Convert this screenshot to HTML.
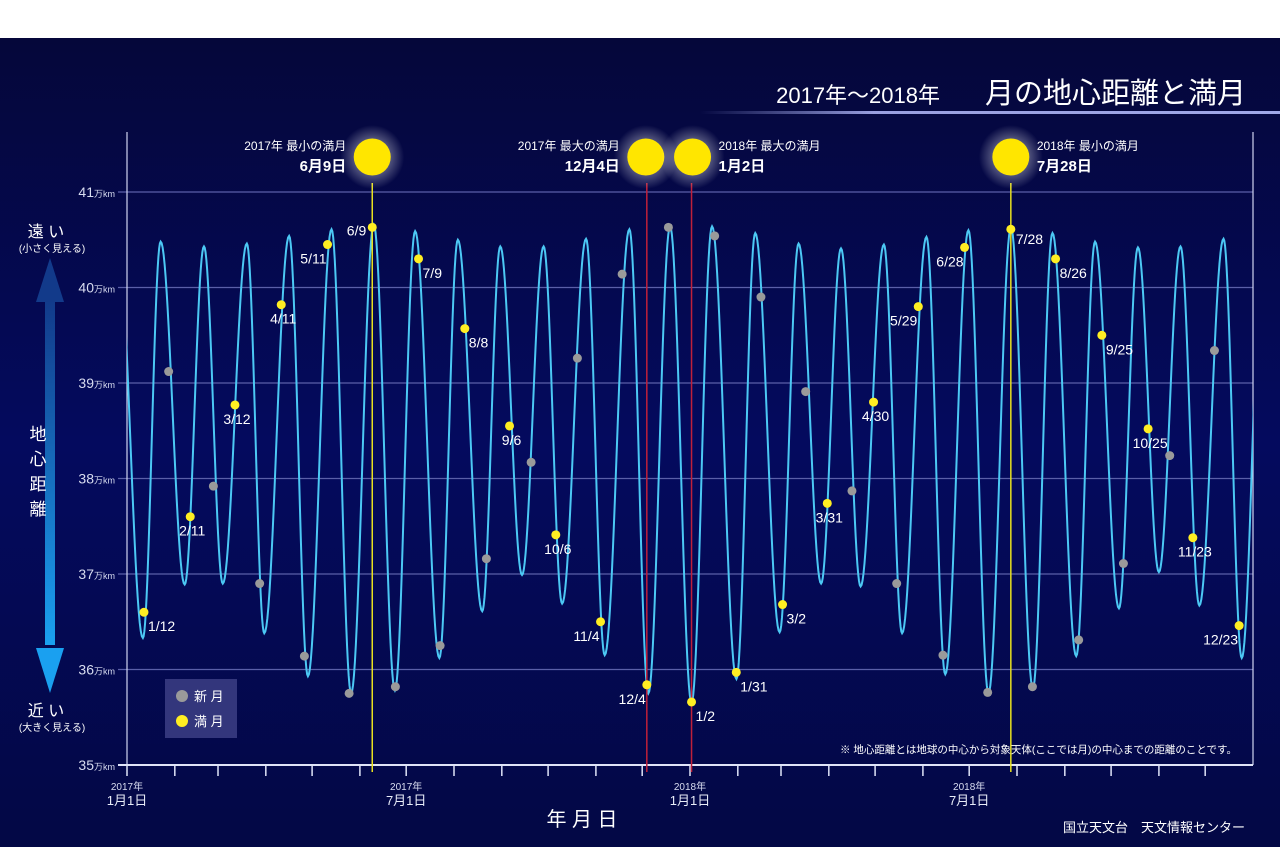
<!DOCTYPE html>
<html><head><meta charset="utf-8"><style>
html,body{margin:0;padding:0;background:#fff;}
svg{display:block;font-family:"Liberation Sans","Noto Sans CJK JP",sans-serif;}
</style></head><body>
<svg id="chart" width="1280" height="847" viewBox="0 0 1280 847">
<defs>
<linearGradient id="bg" x1="0" y1="0" x2="0" y2="1">
<stop offset="0" stop-color="#05073a"/><stop offset="0.5" stop-color="#040a5e"/><stop offset="1" stop-color="#030845"/>
</linearGradient>
<linearGradient id="arrow" x1="0" y1="0" x2="0" y2="1">
<stop offset="0" stop-color="#123a8a"/><stop offset="1" stop-color="#1aa0f0"/>
</linearGradient>
<linearGradient id="uline" x1="0" y1="0" x2="1" y2="0">
<stop offset="0" stop-color="#8890d0" stop-opacity="0"/><stop offset="0.3" stop-color="#9aa0e0"/><stop offset="1" stop-color="#a0a8e8"/>
</linearGradient>
<radialGradient id="glow"><stop offset="0.5" stop-color="#ffffff" stop-opacity="0.35"/><stop offset="1" stop-color="#ffffff" stop-opacity="0"/></radialGradient>
<clipPath id="plotclip"><rect x="127" y="130" width="1126" height="640"/></clipPath>
</defs>
<rect x="0" y="0" width="1280" height="38" fill="#ffffff"/>
<rect x="0" y="38" width="1280" height="809" fill="url(#bg)"/>
<g>
<text x="940" y="103" fill="#fff" font-size="22" text-anchor="end">2017年～2018年</text>
<text x="1246" y="103" fill="#fff" font-size="29" text-anchor="end">月の地心距離と満月</text>
<rect x="700" y="111" width="580" height="3" fill="url(#uline)"/>
</g>
<g id="grid"></g>
<g id="axes"></g>
<g id="series" clip-path="url(#plotclip)"></g>
<g id="annot"></g>
<g id="dots"></g>
<g>
<text x="46" y="237" fill="#fff" font-size="16" text-anchor="middle">遠 い</text>
<text x="52" y="252" fill="#fff" font-size="10" text-anchor="middle">(小さく見える)</text>
<rect x="45" y="300" width="10" height="345" fill="url(#arrow)"/>
<polygon points="50,258 36,302 64,302" fill="#123a8a"/>
<polygon points="50,693 36,648 64,648" fill="#1aa0f0"/>
<text x="38" y="440" fill="#fff" font-size="17" text-anchor="middle">地</text>
<text x="38" y="465" fill="#fff" font-size="17" text-anchor="middle">心</text>
<text x="38" y="490" fill="#fff" font-size="17" text-anchor="middle">距</text>
<text x="38" y="515" fill="#fff" font-size="17" text-anchor="middle">離</text>
<text x="46" y="716" fill="#fff" font-size="16" text-anchor="middle">近 い</text>
<text x="52" y="731" fill="#fff" font-size="10" text-anchor="middle">(大きく見える)</text>
</g>
<g>
<rect x="165" y="679" width="72" height="59" fill="#33367c"/>
<circle cx="182" cy="696" r="6" fill="#9a9a9a"/>
<text x="194" y="701" fill="#fff" font-size="13">新 月</text>
<circle cx="182" cy="721" r="6" fill="#ffee22"/>
<text x="194" y="726" fill="#fff" font-size="13">満 月</text>
</g>
<text x="1237" y="753" fill="#fff" font-size="10.5" text-anchor="end">※ 地心距離とは地球の中心から対象天体(ここでは月)の中心までの距離のことです。</text>
<text x="582" y="826" fill="#fff" font-size="20" text-anchor="middle">年 月 日</text>
<text x="1245" y="832" fill="#fff" font-size="13" text-anchor="end">国立天文台　天文情報センター</text>
</svg>
<script>
// Distance extremes: day index from 2017-01-01, distance in 万km
const extremeDays = [-6,10.3,21.8,37.4,49.9,62.1,77.7,89.0,105.1,117.3,132.6,145.3,160.0,173.7,186.8,202.5,214.5,230.3,242.0,256.1,270.1,282.1,297.6,309.7,325.7,338.0,352.1,366.0,379.3,395.1,407.3,423.1,435.4,450.0,462.9,475.6,490.7,502.5,518.3,530.5,545.5,558.5,573.1,587.3,600.0,615.4,627.6,643.1,655.4,669.0,683.0,695.2,710.9,722.7,736.5];
const extremeValues = [40.5,36.33,40.48,36.89,40.43,36.90,40.46,36.38,40.54,35.93,40.61,35.75,40.66,35.78,40.59,36.12,40.50,36.61,40.43,36.99,40.43,36.69,40.51,36.15,40.61,35.75,40.64,35.65,40.64,35.90,40.57,36.39,40.46,36.90,40.41,36.87,40.45,36.38,40.53,35.95,40.60,35.75,40.63,35.80,40.57,36.14,40.48,36.64,40.42,37.02,40.43,36.67,40.51,36.12,40.5];
const fullMoonDates = ["2017-01-12","2017-02-11","2017-03-12","2017-04-11","2017-05-11","2017-06-09","2017-07-09","2017-08-08","2017-09-06","2017-10-06","2017-11-04","2017-12-04","2018-01-02","2018-01-31","2018-03-02","2018-03-31","2018-04-30","2018-05-29","2018-06-28","2018-07-28","2018-08-26","2018-09-25","2018-10-25","2018-11-23","2018-12-23"];
const fullMoonValues = [36.60,37.60,38.77,39.82,40.45,40.63,40.30,39.57,38.55,37.41,36.50,35.84,35.66,35.97,36.68,37.74,38.80,39.80,40.42,40.61,40.30,39.50,38.52,37.38,36.46];
const fullMoonLabels = ["1/12","2/11","3/12","4/11","5/11","6/9","7/9","8/8","9/6","10/6","11/4","12/4","1/2","1/31","3/2","3/31","4/30","5/29","6/28","7/28","8/26","9/25","10/25","11/23","12/23"];
const newMoonDates = ["2017-01-28","2017-02-26","2017-03-28","2017-04-26","2017-05-25","2017-06-24","2017-07-23","2017-08-22","2017-09-20","2017-10-20","2017-11-18","2017-12-18","2018-01-17","2018-02-16","2018-03-17","2018-04-16","2018-05-15","2018-06-14","2018-07-13","2018-08-11","2018-09-10","2018-10-09","2018-11-08","2018-12-07"];
const newMoonValues = [39.12,37.92,36.90,36.14,35.75,35.82,36.25,37.16,38.17,39.26,40.14,40.63,40.54,39.90,38.91,37.87,36.90,36.15,35.76,35.82,36.31,37.11,38.24,39.34];
const yTicks = [35,36,37,38,39,40,41];
const xTickDates = ["2017-01-01","2017-07-01","2018-01-01","2018-07-01"];
const xTickYears = ["2017年","2017年","2018年","2018年"];
const xTickDays = ["1月1日","7月1日","1月1日","7月1日"];
const highlightDates = ["2017-06-09","2017-12-04","2018-01-02","2018-07-28"];
const highlightTitles = ["2017年 最小の満月","2017年 最大の満月","2018年 最大の満月","2018年 最小の満月"];
const highlightDays = ["6月9日","12月4日","1月2日","7月28日"];

const NS="http://www.w3.org/2000/svg";
const X0=127,X1=1253,Y35=765,PX=95.5;
const T0=Date.UTC(2017,0,1);
function dayOf(s){const p=s.split("-");return (Date.UTC(+p[0],+p[1]-1,+p[2])-T0)/86400000;}
function xScale(d){return X0+d*(X1-X0)/730;}
function yScale(v){return Y35-(v-35)*PX;}
function mk(tag,attrs,parent){const e=document.createElementNS(NS,tag);for(const k in attrs)e.setAttribute(k,attrs[k]);parent.appendChild(e);return e;}

const grid=document.getElementById("grid"),axes=document.getElementById("axes");
yTicks.forEach(function(v){
  const y=yScale(v);
  if(v>35){const gl=mk("line",{x1:118,x2:X1,y1:y,y2:y,stroke:"#5a5fa8","stroke-width":1.2},grid);
  
  }
  const t=mk("text",{x:115,y:y+5,fill:"#d8dcf0","font-size":14,"text-anchor":"end"},axes);
  
  
  t.appendChild(document.createTextNode(String(v)));
  const ts=mk("tspan",{"font-size":9},t);
  ts.textContent="万km";
});
let ax=mk("line",{x1:X0,x2:X0,y1:132,y2:Y35,stroke:"#d0d4f0","stroke-width":1.2},axes);


ax=mk("line",{x1:X1,x2:X1,y1:132,y2:Y35,stroke:"#d0d4f0","stroke-width":1.2},axes);


ax=mk("line",{x1:118,x2:X1,y1:Y35,y2:Y35,stroke:"#e0e4f8","stroke-width":2},axes);


for(let yr=2017;yr<=2018;yr++)for(let m=0;m<12;m++){
  const dd=(Date.UTC(yr,m,1)-T0)/86400000,x=xScale(dd);
  const tk=mk("line",{x1:x,x2:x,y1:Y35,y2:Y35+11,stroke:"#e0e4f8","stroke-width":1.5},axes);
  
  
}
xTickDates.forEach(function(s,i){
  const x=xScale(dayOf(s));
  const a=mk("text",{x:x,y:790,fill:"#d8dcf0","font-size":10,"text-anchor":"middle"},axes);
  
  
  a.textContent=xTickYears[i];
  const b=mk("text",{x:x,y:805,fill:"#e8ecf8","font-size":13,"text-anchor":"middle"},axes);
  
  
  b.textContent=xTickDays[i];
});

const annot=document.getElementById("annot");
const hlColors=["#e8e020","#c0203a","#c0203a","#e8e020"];
highlightDates.forEach(function(s,i){
  const x=xScale(dayOf(s));
  const ln=mk("line",{x1:x,x2:x,y1:183,y2:772,stroke:hlColors[i],"stroke-width":1.5},annot);
  
  
  const mx = i==1? x-1 : (i==2? x+1 : x);
  const g=mk("circle",{cx:mx,cy:157,r:32,fill:"url(#glow)"},annot);
  
  
  const c=mk("circle",{cx:mx,cy:157,r:18.5,fill:"#ffe600"},annot);
  
  
  const left=(i==0||i==1);
  const tx=left?mx-26:mx+26,anc=left?"end":"start";
  const t1=mk("text",{x:tx,y:150,fill:"#fff","font-size":12,"text-anchor":anc},annot);
  
  
  t1.textContent=highlightTitles[i];
  const t2=mk("text",{x:tx,y:171,fill:"#fff","font-size":15,"font-weight":"bold","text-anchor":anc},annot);
  
  
  t2.textContent=highlightDays[i];
});

let pd="";
for(let i=0;i<extremeDays.length-1;i++){
  const a=extremeDays[i],b=extremeDays[i+1],va=extremeValues[i],vb=extremeValues[i+1];
  for(let k=0;k<=24;k++){
    const t=k/24,dd=a+(b-a)*t,v=va+(vb-va)*(1-Math.cos(Math.PI*t))/2;
    pd+=(pd?"L":"M")+xScale(dd).toFixed(2)+","+yScale(v).toFixed(2);
  }
}
const path=mk("path",{d:pd,fill:"none",stroke:"#4cc8f4","stroke-width":2},document.getElementById("series"));



const dots=document.getElementById("dots");
newMoonDates.forEach(function(s,i){
  const c=mk("circle",{cx:xScale(dayOf(s)),cy:yScale(newMoonValues[i]),r:4.5,fill:"#9a9a9a"},dots);
  
  
});
const lp=["r","b","b","b","l","L","r","r","b","b","l","l","r","r","r","b","b","l","l","R","r","r","b","b","l"];
fullMoonDates.forEach(function(s,i){
  const x=xScale(dayOf(s)),y=yScale(fullMoonValues[i]);
  const c=mk("circle",{cx:x,cy:y,r:4.5,fill:"#ffee22"},dots);
  
  
  let tx=x,ty=y+19,anc="middle";
  if(lp[i]=="r"){tx=x+4;anc="start";}
  else if(lp[i]=="l"){tx=x-1;anc="end";}
  else if(lp[i]=="b"){tx=x+2;}
  else if(lp[i]=="L"){tx=x-6;ty=y+8;anc="end";}
  else if(lp[i]=="R"){tx=x+5;ty=y+15;anc="start";}
  const t=mk("text",{x:tx,y:ty,fill:"#fff","font-size":14,"text-anchor":anc},dots);
  
  
  t.textContent=fullMoonLabels[i];
});
</script>
</body></html>
